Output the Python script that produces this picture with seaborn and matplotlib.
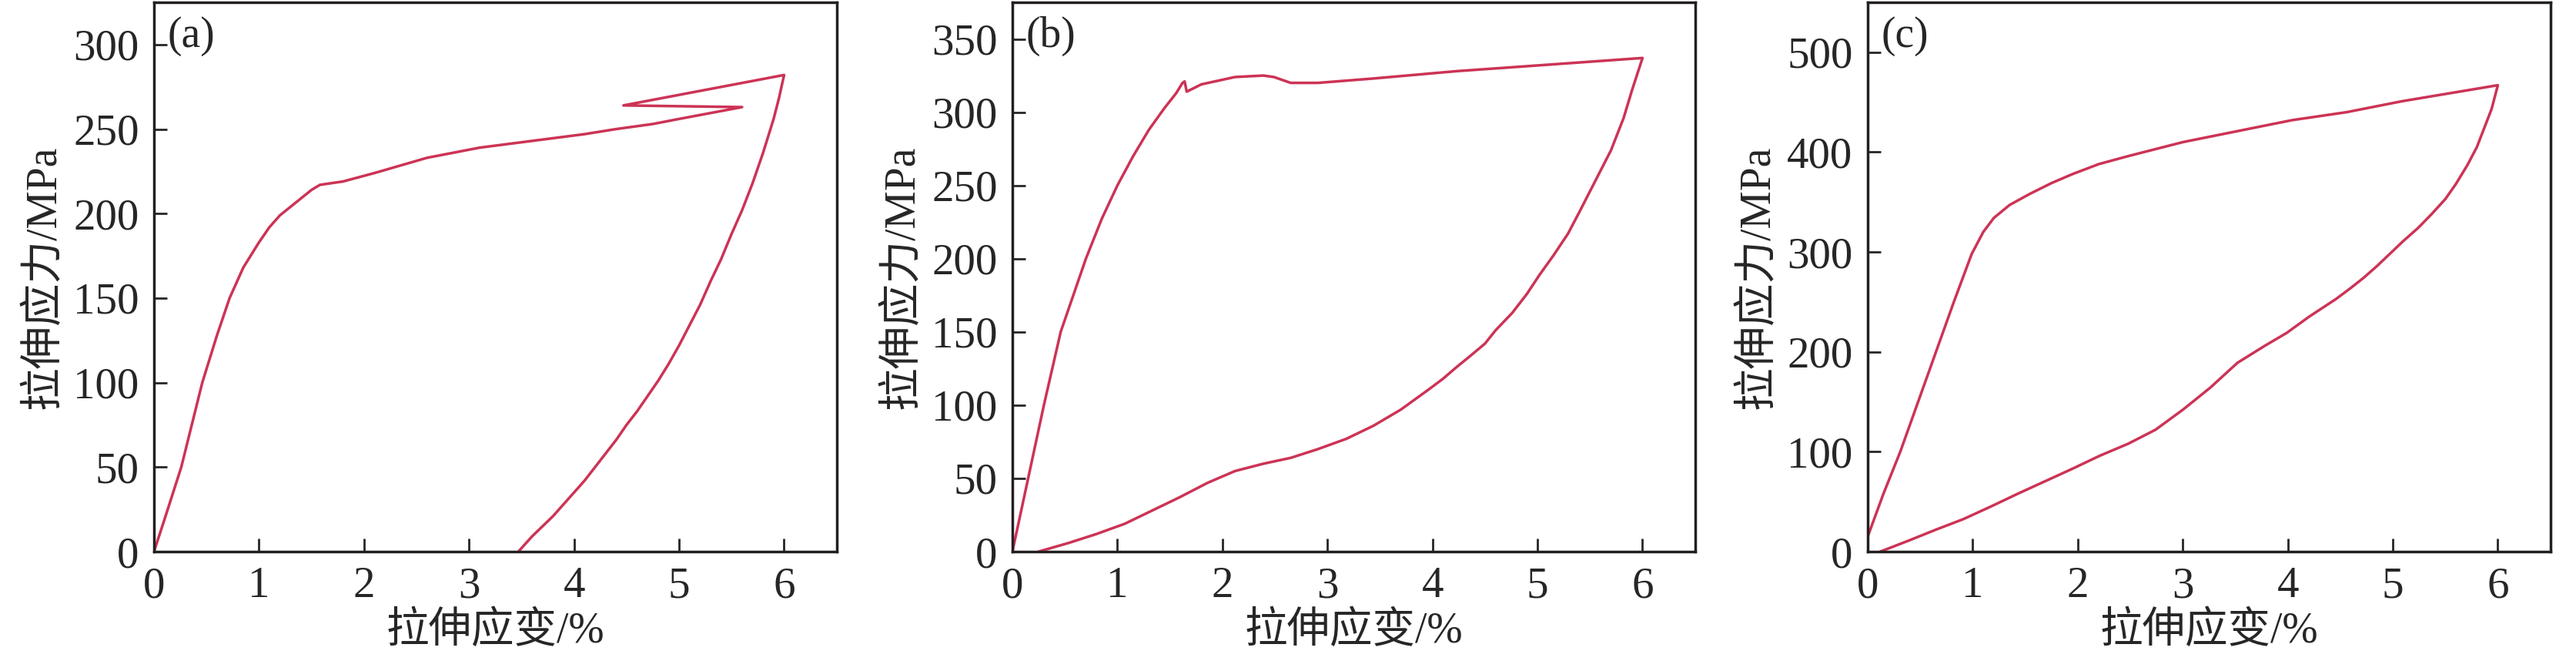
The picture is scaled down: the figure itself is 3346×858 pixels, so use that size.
import numpy as np
import pandas as pd
import matplotlib
matplotlib.use("Agg")
import matplotlib.pyplot as plt
import seaborn as sns

# panel (a): loading then unloading, strain in %, stress in MPa
strain_a = [0, 0.1, 0.26, 0.46, 0.6, 0.72, 0.85, 1.0, 1.1, 1.2, 1.3, 1.4, 1.5, 1.58, 1.8,
            2.1, 2.6, 3.1, 3.6, 4.1, 4.4, 4.75, 5.0, 5.6, 4.47, 6.0,
            5.95, 5.9, 5.8, 5.7, 5.6, 5.5, 5.4, 5.3, 5.2, 5.1, 5.0, 4.9, 4.8, 4.7, 4.6,
            4.5, 4.4, 4.3, 4.2, 4.1, 4.0, 3.9, 3.8, 3.7, 3.6, 3.47]
stress_a = [0, 19, 50, 100, 128, 150, 168, 183, 192, 199, 204, 209, 214, 217, 219,
            224, 233, 239, 243, 247, 250, 253, 256, 263, 264, 282,
            268, 256, 236, 218, 202, 188, 173, 160, 146, 134, 122, 111, 101, 92, 83,
            75, 66, 58, 50, 42, 35, 28, 21, 15, 9, 0]

# panel (b)
strain_b = [0, 0.15, 0.3, 0.46, 0.58, 0.7, 0.85, 1.0, 1.15, 1.3, 1.45, 1.56, 1.62, 1.64, 1.66,
            1.8, 2.12, 2.39, 2.49, 2.65, 2.91, 3.44, 4.23, 5.02, 6.0,
            5.9, 5.82, 5.7, 5.55, 5.4, 5.29, 5.15, 5.02, 4.9, 4.76, 4.6, 4.5, 4.35, 4.23,
            4.1, 3.97, 3.7, 3.44, 3.18, 2.91, 2.65, 2.39, 2.12, 1.86, 1.59, 1.33, 1.07,
            0.8, 0.54, 0.25]
stress_b = [0, 50, 100, 150, 175, 200, 227, 250, 270, 288, 303, 313, 320, 321, 314,
            319, 324, 325, 324, 320, 320, 323, 328, 332, 337,
            315, 296, 274, 253, 232, 217, 202, 189, 176, 163, 151, 142, 133, 126,
            118, 111, 97, 86, 77, 70, 64, 60, 55, 47, 37, 28, 19, 12, 6, 0]

# panel (c)
strain_c = [0, 0.15, 0.31, 0.48, 0.65, 0.82, 0.99, 1.1, 1.2, 1.35, 1.54, 1.75, 1.95, 2.2,
            2.48, 3.0, 3.52, 4.04, 4.56, 5.09, 6.0,
            5.94, 5.87, 5.8, 5.71, 5.6, 5.5, 5.37, 5.24, 5.1, 4.98, 4.85, 4.72, 4.6, 4.46,
            4.2, 3.99, 3.78, 3.52, 3.26, 3.0, 2.74, 2.48, 2.21, 1.95, 1.69, 1.43, 1.17,
            0.91, 0.65, 0.39, 0.12]
stress_c = [15, 58, 100, 150, 200, 250, 298, 320, 334, 347, 358, 369, 378, 388,
            396, 410, 421, 432, 440, 451, 467,
            443, 424, 405, 387, 368, 353, 338, 324, 311, 299, 286, 274, 264, 253,
            235, 219, 206, 189, 164, 142, 122, 108, 96, 83, 70.5, 58, 45, 32.5, 22, 11, 0]

panels = [("(a)", strain_a, stress_a, 325, [0, 50, 100, 150, 200, 250, 300]),
          ("(b)", strain_b, stress_b, 375, [0, 50, 100, 150, 200, 250, 300, 350]),
          ("(c)", strain_c, stress_c, 550, [0, 100, 200, 300, 400, 500])]

sns.set_style("ticks")
plt.rcParams['font.family'] = ['Liberation Serif', 'Noto Sans CJK SC']
plt.rcParams['axes.unicode_minus'] = False

fig = plt.figure(figsize=(33.46, 8.58), dpi=100)
lefts = [200 / 3346, 1315 / 3346, 2426 / 3346]
line_color = '#cc3355'

for left, (tag, x, y, ymax, yticks) in zip(lefts, panels):
    ax = fig.add_axes([left, 0.1655, 0.265, 0.831])
    df = pd.DataFrame({"strain": x, "stress": y})
    sns.lineplot(data=df, x="strain", y="stress", sort=False, estimator=None,
                 color=line_color, linewidth=2.5, ax=ax)
    ax.set_xlim(0, 6.5)
    ax.set_ylim(0, ymax)
    ax.set_xticks([0, 1, 2, 3, 4, 5, 6])
    ax.set_yticks(yticks)
    ax.tick_params(direction='in', length=12, width=2, labelsize=41, pad=14)
    for s in ax.spines.values():
        s.set_linewidth(2.5)
        s.set_color('#231f20')
    ax.set_xlabel("拉伸应变/%", fontsize=40, labelpad=4)
    ax.set_ylabel("拉伸应力/MPa", fontsize=40, labelpad=8)
    ax.text(0.02, 0.975, tag, transform=ax.transAxes, fontsize=40, va='top', ha='left')

fig.savefig("out.png", dpi=100)
